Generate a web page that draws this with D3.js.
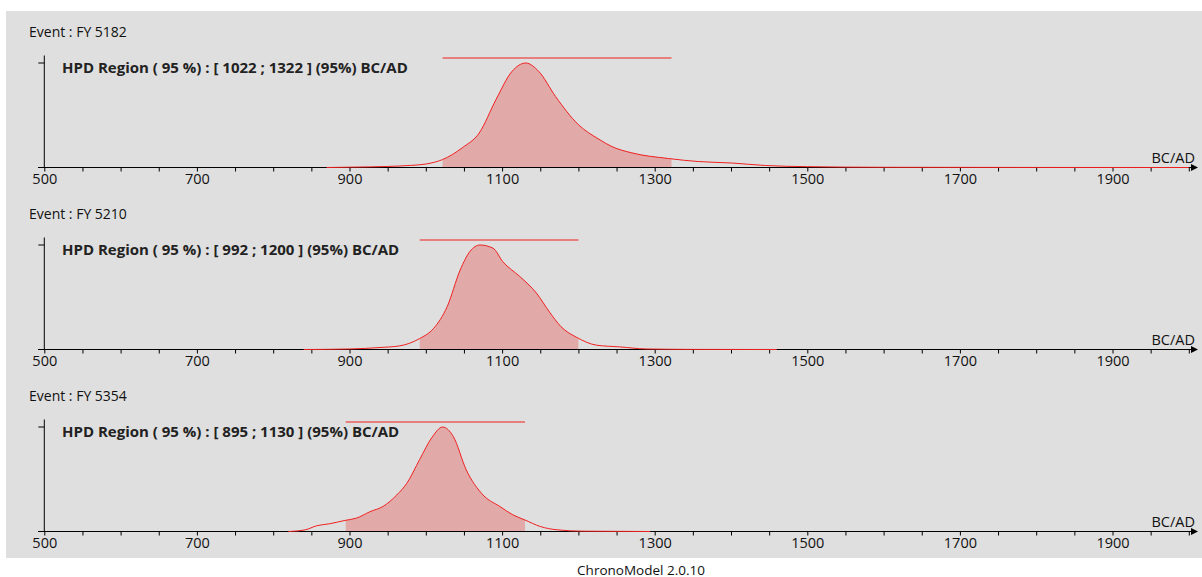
<!DOCTYPE html>
<html>
<head>
<meta charset="utf-8">
<script src="https://cdn.jsdelivr.net/npm/d3@7"></script>
<style>
  body { margin: 0; background: #fff; }
  text { font-family: "Open Sans", "Noto Sans", sans-serif; }
</style>
</head>
<body>
<script>
// chart data
var events = ["FY 5182", "FY 5210", "FY 5354"];
var hpdLow = [1022, 992, 895];
var hpdHigh = [1322, 1200, 1130];

var years1 = [870, 900, 950, 980, 1000, 1022, 1048, 1070, 1092, 1113, 1131, 1148, 1170, 1200, 1227, 1244, 1270, 1318, 1357, 1401, 1445, 1500, 1600, 1800, 2000];
var dens1  = [0, .003, .01, .02, .033, .076, .19, .33, .65, .92, 1, .92, .68, .41, .27, .20, .14, .086, .057, .043, .019, .008, .002, .0005, 0];

var years2 = [840, 900, 940, 966, 992, 1010, 1028, 1045, 1058, 1071, 1088, 1101, 1123, 1145, 1162, 1177, 1198, 1224, 1254, 1289, 1350, 1460];
var dens2  = [0, .005, .019, .035, .105, .2, .41, .76, .94, 1, .97, .84, .70, .54, .36, .22, .115, .041, .025, .005, .001, 0];

var years3 = [820, 842, 857, 874, 894, 909, 927, 944, 962, 975, 992, 1008, 1022, 1036, 1053, 1075, 1097, 1114, 1130, 1150, 1172, 1206, 1294];
var dens3  = [0, .016, .055, .074, .106, .128, .19, .24, .35, .46, .69, .90, 1, .91, .59, .35, .24, .16, .11, .048, .016, .003, 0];

var tickYears = d3.range(500, 2001, 50);
var labelYears = d3.range(500, 2000, 200);

var allYears = [years1, years2, years3];
var allDens = [dens1, dens2, dens3];

var width = 1202, height = 577;

var svg = d3.select("body").append("svg")
    .attr("width", width)
    .attr("height", height);

// grey plot background
svg.append("rect")
    .attr("x", 6).attr("y", 11)
    .attr("width", width - 6).attr("height", 547)
    .attr("fill", "#dfdfdf");

var x = d3.scaleLinear()
    .domain([500, 2000])
    .range([44.3, 1188.8]);

var panelGap = 182;

events.forEach(function (ev, i) {
    var base = 167.5 + i * panelGap;
    var y = d3.scaleLinear().domain([0, 1]).range([base, base - 104.5]);
    var g = svg.append("g");
    var pts = allYears[i].map(function (yr, k) { return [yr, allDens[i][k]]; });

    // event title
    g.append("text")
        .attr("x", 29).attr("y", base - 130.5)
        .attr("font-size", 14)
        .attr("fill", "#111")
        .text("Event : " + ev);

    // HPD fill (clipped to the region)
    var clipId = "clip" + i;
    g.append("clipPath").attr("id", clipId)
        .append("rect")
        .attr("x", x(hpdLow[i])).attr("y", base - 120)
        .attr("width", x(hpdHigh[i]) - x(hpdLow[i]))
        .attr("height", 121);

    var area = d3.area()
        .x(function (d) { return x(d[0]); })
        .y0(base)
        .y1(function (d) { return y(d[1]); })
        .curve(d3.curveMonotoneX);

    g.append("path")
        .datum(pts)
        .attr("clip-path", "url(#" + clipId + ")")
        .attr("fill", "#e2a9a9")
        .attr("d", area);

    // x axis line + arrow
    g.append("line")
        .attr("x1", 38).attr("x2", 1194)
        .attr("y1", base).attr("y2", base)
        .attr("stroke", "#000").attr("stroke-width", 1);
    g.append("path")
        .attr("d", "M1191," + (base - 3.5) + "L1198," + base + "L1191," + (base + 3.5) + "Z")
        .attr("fill", "#000");

    var xAxis = d3.axisBottom(x)
        .tickValues(tickYears)
        .tickSize(4)
        .tickSizeOuter(0)
        .tickFormat(function (d) { return labelYears.indexOf(d) >= 0 ? d : ""; });

    var ax = g.append("g")
        .attr("transform", "translate(0," + base + ")")
        .call(xAxis);
    ax.select(".domain").remove();
    ax.selectAll("line").attr("stroke", "#000");
    ax.selectAll("text")
        .attr("y", 6.5)
        .attr("font-size", 14.5)
        .attr("font-family", "'Open Sans', sans-serif")
        .attr("fill", "#111");

    // y axis
    g.append("line")
        .attr("x1", x(500)).attr("x2", x(500))
        .attr("y1", base - 112).attr("y2", base)
        .attr("stroke", "#000");
    g.append("line")
        .attr("x1", x(500) - 6).attr("x2", x(500))
        .attr("y1", y(1)).attr("y2", y(1))
        .attr("stroke", "#000");

    // density curve
    var line = d3.line()
        .x(function (d) { return x(d[0]); })
        .y(function (d) { return y(d[1]); })
        .curve(d3.curveMonotoneX);

    g.append("path")
        .datum(pts)
        .attr("fill", "none")
        .attr("stroke", "#f02020")
        .attr("stroke-width", 1)
        .attr("d", line);

    // HPD bar
    g.append("line")
        .attr("x1", x(hpdLow[i])).attr("x2", x(hpdHigh[i]))
        .attr("y1", base - 109.5).attr("y2", base - 109.5)
        .attr("stroke", "#f02020").attr("stroke-width", 1.2);

    g.append("text")
        .attr("x", 62).attr("y", base - 94.2)
        .attr("font-size", 15)
        .attr("font-weight", "bold")
        .attr("fill", "#222")
        .text("HPD Region ( 95 %) : [ " + hpdLow[i] + " ; " + hpdHigh[i] + " ] (95%) BC/AD");

    g.append("text")
        .attr("x", 1195).attr("y", base - 4.5)
        .attr("text-anchor", "end")
        .attr("font-size", 14.5)
        .attr("fill", "#111")
        .text("BC/AD");
});

svg.append("text")
    .attr("x", 641).attr("y", 574.5)
    .attr("text-anchor", "middle")
    .attr("font-size", 13.5)
    .attr("fill", "#111")
    .text("ChronoModel 2.0.10");
</script>
</body>
</html>
